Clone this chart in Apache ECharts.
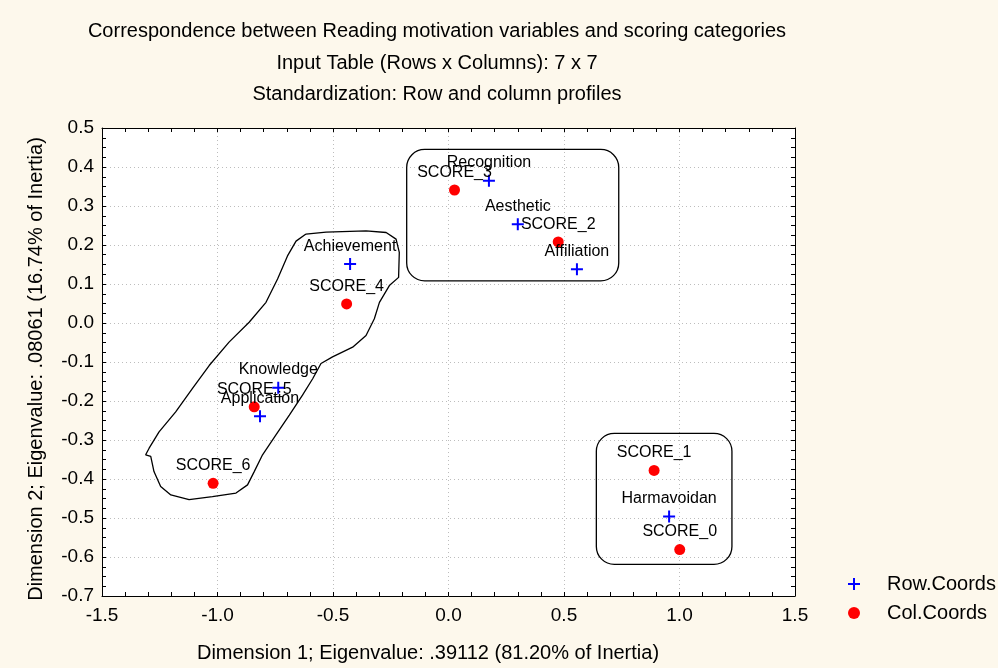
<!DOCTYPE html>
<html><head><meta charset="utf-8">
<script src="https://cdn.jsdelivr.net/npm/echarts@6/dist/echarts.min.js"></script>
<style>html,body{margin:0;padding:0;background:#FDF8EC}#c{width:998px;height:668px}</style>
</head><body><div id="c"></div>
<script>
// ---- data ----
const titleLines = [
  'Correspondence between Reading motivation variables and scoring categories',
  'Input Table (Rows x Columns): 7 x 7',
  'Standardization: Row and column profiles'
];
const xAxisName = 'Dimension 1; Eigenvalue: .39112 (81.20% of Inertia)';
const yAxisName = 'Dimension 2; Eigenvalue: .08061 (16.74% of Inertia)';
const xTicks = [-1.5, -1.0, -0.5, 0.0, 0.5, 1.0, 1.5];
const yTicks = [-0.7, -0.6, -0.5, -0.4, -0.3, -0.2, -0.1, 0.0, 0.1, 0.2, 0.3, 0.4, 0.5];

const rowNames = ['Recognition', 'Aesthetic', 'Affiliation', 'Achievement', 'Knowledge', 'Application', 'Harmavoidan'];
const rowX = [0.175, 0.300, 0.556, -0.426, -0.737, -0.816, 0.955];
const rowY = [0.365, 0.253, 0.138, 0.151, -0.166, -0.239, -0.496];

const colNames = ['SCORE_0', 'SCORE_1', 'SCORE_2', 'SCORE_3', 'SCORE_4', 'SCORE_5', 'SCORE_6'];
const colX = [1.001, 0.890, 0.475, 0.026, -0.441, -0.841, -1.019];
const colY = [-0.581, -0.378, 0.208, 0.341, 0.049, -0.215, -0.411];

// hand-drawn enclosure (annotation) outline, in data units
const outlineX = [-0.617, -0.530, -0.357, -0.270, -0.227, -0.213, -0.216, -0.256, -0.299, -0.321, -0.357, -0.415, -0.502, -0.552, -0.588, -0.632, -0.689, -0.747, -0.805, -0.841, -0.870, -0.920, -1.022, -1.123, -1.202, -1.246, -1.275, -1.289, -1.311, -1.296, -1.253, -1.181, -1.109, -1.036, -0.950, -0.863, -0.790, -0.740, -0.697, -0.660, -0.617];
const outlineY = [0.228, 0.233, 0.236, 0.232, 0.215, 0.181, 0.117, 0.096, 0.053, 0.011, -0.032, -0.062, -0.087, -0.104, -0.143, -0.185, -0.236, -0.287, -0.338, -0.381, -0.415, -0.436, -0.445, -0.453, -0.441, -0.419, -0.381, -0.342, -0.338, -0.321, -0.279, -0.228, -0.168, -0.109, -0.049, 0.002, 0.053, 0.113, 0.172, 0.210, 0.228];
// rounded-rectangle enclosures (annotation)
const boxX1 = [-0.181, 0.640];
const boxY1 = [0.445, -0.283];
const boxX2 = [0.737, 1.227];
const boxY2 = [0.108, -0.619];

// ---- chart ----
const FONT = 'Liberation Sans, Arial, sans-serif';
const fmt = v => (Math.abs(v) < 1e-9 ? 0 : v).toFixed(1);
const xMin = xTicks[0], xMax = xTicks[xTicks.length - 1], xInt = xTicks[1] - xTicks[0];
const yMin = yTicks[0], yMax = yTicks[yTicks.length - 1], yInt = Math.round((yTicks[1] - yTicks[0]) * 1000) / 1000;

const plusPath = 'path://M5,0H7V5H12V7H7V12H5V7H0V5H5Z';

function axisCommon(extra) {
  return Object.assign({
    type: 'value',
    axisLine: { show: true, onZero: false, lineStyle: { color: '#000', width: 1 } },
    axisTick: { show: true, inside: true, length: 4, lineStyle: { color: '#000' } },
    minorTick: { show: true, length: 4, lineStyle: { color: '#000' } },
    splitLine: { show: false },
    axisLabel: { show: false }
  }, extra);
}

const chart = echarts.init(document.getElementById('c'));
chart.setOption({
  backgroundColor: '#FDF8EC',
  textStyle: { fontFamily: FONT, color: '#000' },
  animation: false,
  title: {
    text: titleLines.join('\n'),
    left: 432, top: 11, textAlign: 'center',
    textStyle: { fontSize: 20, fontWeight: 'normal', color: '#000', lineHeight: 31.5, fontFamily: FONT }
  },
  grid: { left: 102, top: 128, right: 203, bottom: 70, show: true, backgroundColor: '#fff', borderWidth: 0 },
  legend: {
    data: ['Row.Coords', 'Col.Coords'],
    orient: 'vertical', left: 843, top: 569,
    itemWidth: 12, itemHeight: 12, itemGap: 9,
    textStyle: { fontSize: 20, color: '#000', fontFamily: FONT, padding: [0, 0, 0, 22] }
  },
  xAxis: [
    axisCommon({
      min: xMin, max: xMax, interval: xInt, position: 'bottom',
      minorTick: { show: true, splitNumber: 5, length: 4, lineStyle: { color: '#000' } },
      axisLabel: { show: true, margin: 10, fontSize: 19, color: '#000', fontFamily: FONT, formatter: fmt },
      splitLine: { show: true, lineStyle: { color: '#bdbdbd', type: [1, 3], width: 1 } },
      name: xAxisName, nameLocation: 'middle', nameGap: 47,
      nameTextStyle: { fontSize: 20, color: '#000', fontFamily: FONT, padding: [0, 41, 0, 0] }
    }),
    axisCommon({
      min: xMin, max: xMax, interval: xInt, position: 'top',
      minorTick: { show: true, splitNumber: 5, length: 4, lineStyle: { color: '#000' } }
    })
  ],
  yAxis: [
    axisCommon({
      min: yMin, max: yMax, interval: yInt, position: 'left',
      minorTick: { show: true, splitNumber: 4, length: 4, lineStyle: { color: '#000' } },
      axisLabel: { show: true, margin: 8, fontSize: 19, color: '#000', fontFamily: FONT, formatter: fmt },
      splitLine: { show: true, lineStyle: { color: '#bdbdbd', type: [1, 3], width: 1 } },
      name: yAxisName, nameLocation: 'middle', nameGap: 56,
      nameTextStyle: { fontSize: 20, color: '#000', fontFamily: FONT, padding: [0, 14, 0, 0] }
    }),
    axisCommon({
      min: yMin, max: yMax, interval: yInt, position: 'right',
      minorTick: { show: true, splitNumber: 4, length: 4, lineStyle: { color: '#000' } }
    })
  ],
  series: [
    {
      name: 'outline', type: 'line', silent: true, symbol: 'none',
      data: outlineX.map((x, i) => [x, outlineY[i]]),
      lineStyle: { color: '#000', width: 1.3 }, z: 1
    },
    {
      name: 'boxes', type: 'custom', silent: true, z: 1,
      data: boxX1.map((x, i) => [x, boxY1[i], boxX2[i], boxY2[i]]),
      encode: { x: [0, 2], y: [1, 3] },
      renderItem: function (params, api) {
        const p1 = api.coord([api.value(0), api.value(1)]);
        const p2 = api.coord([api.value(2), api.value(3)]);
        return {
          type: 'rect',
          shape: { x: Math.min(p1[0], p2[0]), y: Math.min(p1[1], p2[1]), width: Math.abs(p2[0] - p1[0]), height: Math.abs(p2[1] - p1[1]), r: 18 },
          style: { fill: null, stroke: '#000', lineWidth: 1.3 }
        };
      }
    },
    {
      name: 'Row.Coords', type: 'scatter', symbol: plusPath, symbolSize: 12,
      itemStyle: { color: '#0000FF', opacity: 1 },
      data: rowNames.map((n, i) => ({ name: n, value: [rowX[i], rowY[i]] })),
      label: { show: true, position: 'top', distance: 4, formatter: '{b}', color: '#000', fontSize: 16, fontFamily: FONT },
      z: 3
    },
    {
      name: 'Col.Coords', type: 'scatter', symbol: 'circle', symbolSize: 11,
      itemStyle: { color: '#FF0000', opacity: 1 },
      data: colNames.map((n, i) => ({ name: n, value: [colX[i], colY[i]] })),
      label: { show: true, position: 'top', distance: 4, formatter: '{b}', color: '#000', fontSize: 16, fontFamily: FONT },
      z: 3
    }
  ]
});
</script>
</body></html>
